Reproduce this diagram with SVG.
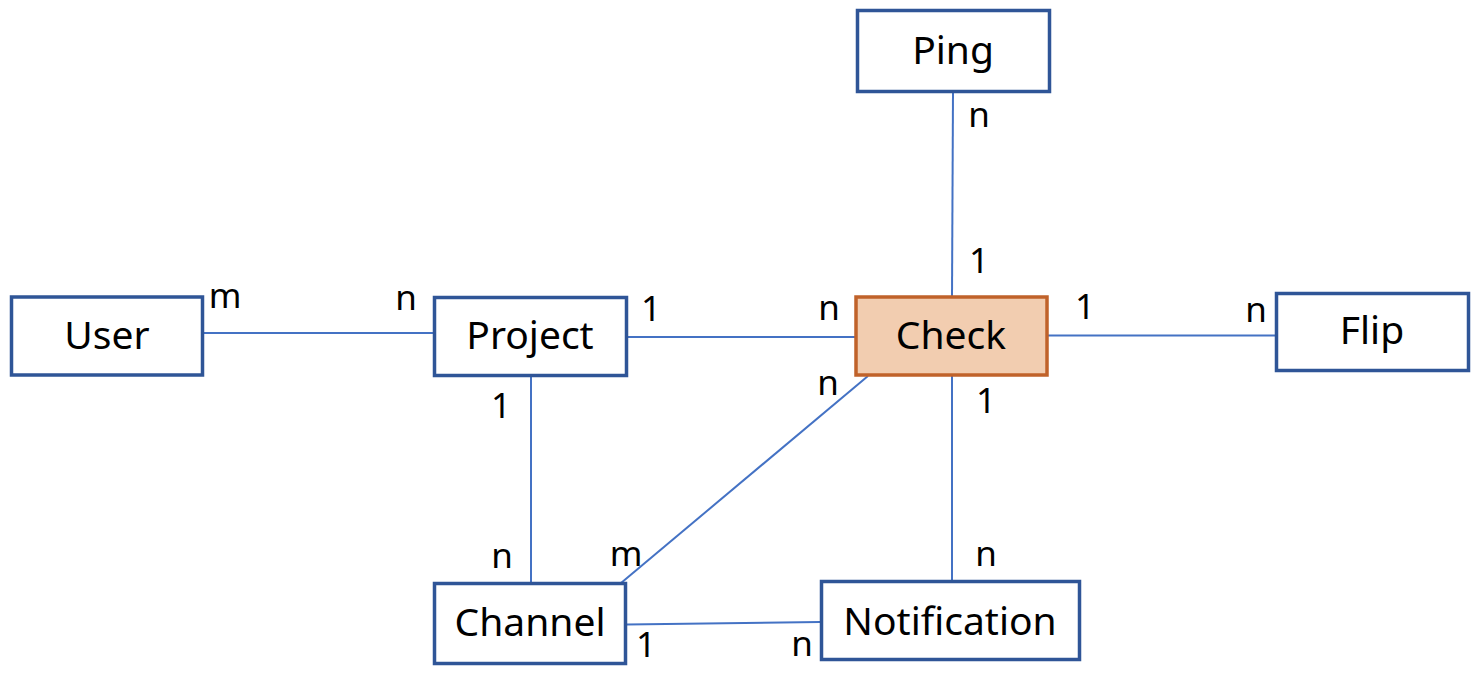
<svg xmlns="http://www.w3.org/2000/svg" width="1480" height="674" viewBox="0 0 1480 674">
<style>
.box{fill:#fff;stroke:#2F5597;stroke-width:3.5}
.hl{fill:#F2CDB0;stroke:#C0622A;stroke-width:3.5}
.t{font-family:"Noto Sans","Open Sans",sans-serif;font-size:39px;fill:#000;text-anchor:middle}
.l{font-family:"Noto Sans","Open Sans",sans-serif;font-size:35px;fill:#000;text-anchor:middle}
.c{stroke:#4472C4;stroke-width:2;fill:none}
</style>
<rect width="1480" height="674" fill="#fff"/>
<g id="connectors">
<line class="c" x1="204" y1="333" x2="434" y2="333"/>
<line class="c" x1="627" y1="337" x2="856" y2="337"/>
<line class="c" x1="1047" y1="335.5" x2="1276" y2="335.5"/>
<line class="c" x1="953" y1="92" x2="952" y2="296"/>
<line class="c" x1="952" y1="376" x2="952" y2="580"/>
<line class="c" x1="531" y1="376" x2="531" y2="582"/>
<line class="c" x1="868" y1="376" x2="621" y2="583"/>
<line class="c" x1="627" y1="624.5" x2="820" y2="622"/>
</g>
<g id="labels">
<text class="l" x="225" y="308">m</text>
<text class="l" x="406" y="310">n</text>
<text class="l" x="651" y="321">1</text>
<text class="l" x="829" y="320">n</text>
<text class="l" x="1085" y="319">1</text>
<text class="l" x="1256" y="322">n</text>
<text class="l" x="979" y="127">n</text>
<text class="l" x="979" y="273">1</text>
<text class="l" x="501" y="418">1</text>
<text class="l" x="828" y="395">n</text>
<text class="l" x="986" y="413">1</text>
<text class="l" x="502" y="568">n</text>
<text class="l" x="626" y="566">m</text>
<text class="l" x="986" y="566">n</text>
<text class="l" x="646" y="657">1</text>
<text class="l" x="802" y="656">n</text>
</g>
<g id="user"><rect class="box" x="11.5" y="297" width="191" height="78"/><text class="t" x="107" y="349">User</text></g>
<g id="project"><rect class="box" x="434.5" y="297.5" width="192" height="78"/><text class="t" x="530" y="349">Project</text></g>
<g id="check"><rect class="hl" x="856" y="297" width="191" height="78"/><text class="t" x="951" y="349">Check</text></g>
<g id="flip"><rect class="box" x="1276.5" y="293.5" width="192" height="77"/><text class="t" x="1372" y="344">Flip</text></g>
<g id="ping"><rect class="box" x="857.5" y="10.5" width="192" height="81"/><text class="t" x="953" y="64">Ping</text></g>
<g id="channel"><rect class="box" x="434.5" y="583.5" width="191" height="80"/><text class="t" x="530" y="636">Channel</text></g>
<g id="notification"><rect class="box" x="821.5" y="581.5" width="258" height="78"/><text class="t" x="950" y="635">Notification</text></g>
</svg>
